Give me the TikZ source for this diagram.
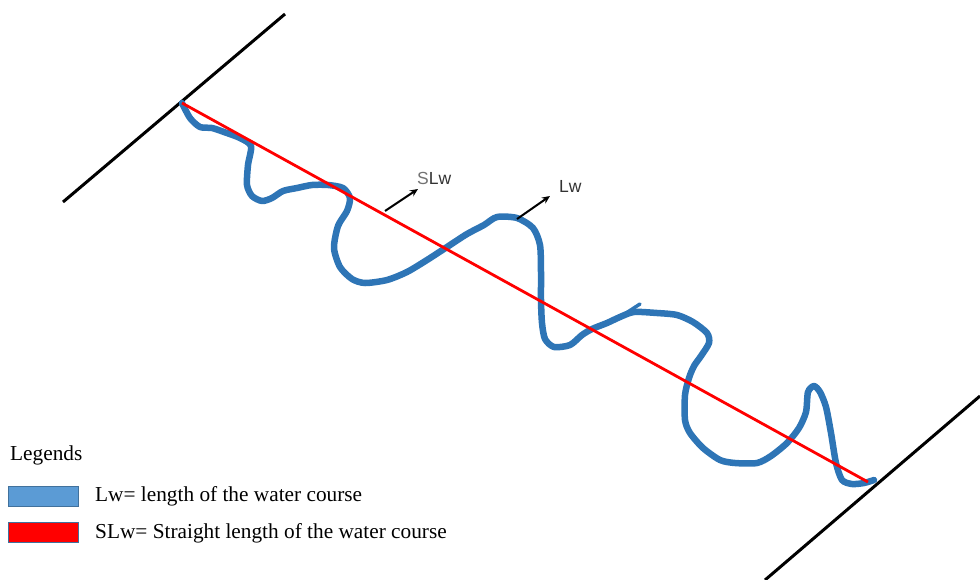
\documentclass[tikz,border=0pt]{standalone}
\usepackage{fontspec}
\setmainfont{Liberation Serif}
\setsansfont{Liberation Sans}
\usetikzlibrary{arrows.meta}
\definecolor{river}{HTML}{2E75B6}
\definecolor{legblue}{HTML}{5B9BD5}
\definecolor{legedge}{HTML}{41719C}
\tikzset{
  bank/.style={line width=3pt, black},
  straight/.style={line width=2.8pt, red},
  course/.style={line width=6.5pt, river, line cap=round, line join=round},
  pointer/.style={line width=2pt, black, -{Stealth[length=8pt,width=7pt]}},
  lbl/.style={font=\sffamily\fontsize{17.5}{19}\selectfont, text=black!80, inner sep=0pt, anchor=west},
  legtext/.style={font=\fontsize{21.3}{23}\selectfont, inner sep=0pt, anchor=west},
  legbox/.style={draw=legedge, line width=1pt, minimum width=70pt, minimum height=20pt, inner sep=0pt}
}
\begin{document}
\begin{tikzpicture}[x=1pt,y=-1pt]
\useasboundingbox (0,0) rectangle (980,579);
% banks
\coordinate (b1a) at (63,202); \coordinate (b1b) at (285,14);
\coordinate (b2a) at (765,580); \coordinate (b2b) at (980,396);
\draw[bank] (b1a) -- (b1b);
\draw[bank] (b2a) -- (b2b);
% water course
\draw[course] plot[smooth, tension=0.45] coordinates {
 (182,103) (190,118) (200,127) (212,128) (224,132) (240,138) (251,146)
 (248,165) (247,185) (252,196) (262,201) (272,198) (283,191) (297,188)
 (312,185) (328,185) (343,188) (350,198) (347,211) (338,226) (334,248)
 (340,267) (352,279) (365,283) (387,280) (407,272) (427,260) (447,247)
 (467,234) (484,225) (497,217) (517,218) (533,228) (540,245) (541,272)
 (541,300) (542,323) (545,339) (554,347) (570,345) (582,335) (592,329)
 (607,323) (620,317) (634,312) (657,313) (677,315) (693,322) (707,333)
 (709,343) (701,356) (694,366) (689,378) (685,395) (685,420) (690,433)
 (703,448) (720,460) (735,463) (757,463) (771,456) (787,443) (799,428)
 (806,412) (808,392) (814,386) (820,392) (826,407) (831,433) (836,463)
 (842,480) (852,484) (864,483) (874,480)};
\coordinate (sp1) at (620,317); \coordinate (sp2) at (640,304);
\draw[river, line width=3.5pt, line cap=round] (sp1) -- (sp2);
% straight length
\coordinate (s1) at (182,103); \coordinate (s2) at (868,482);
\draw[straight] (s1) -- (s2);
% labels
\node[lbl] (slw) at (417,178) {{\color{black!55}S}Lw};
\node[lbl] (lw) at (559,186) {Lw};
\coordinate (a1) at (385,211); \coordinate (a1e) at (418,189);
\coordinate (a2) at (517,219); \coordinate (a2e) at (550,196);
\draw[pointer] (a1) -- (a1e);
\draw[pointer] (a2) -- (a2e);
% legend
\node[legtext] (leg) at (10,455) {Legends};
\node[legbox, fill=legblue] (kb) at (43,496) {};
\node[legbox, fill=red] (kr) at (43,532) {};
\node[legtext] (tb) at (95,496) {Lw= length of the water course};
\node[legtext] (tr) at (95,533) {SLw= Straight length of the water course};
\end{tikzpicture}
\end{document}
